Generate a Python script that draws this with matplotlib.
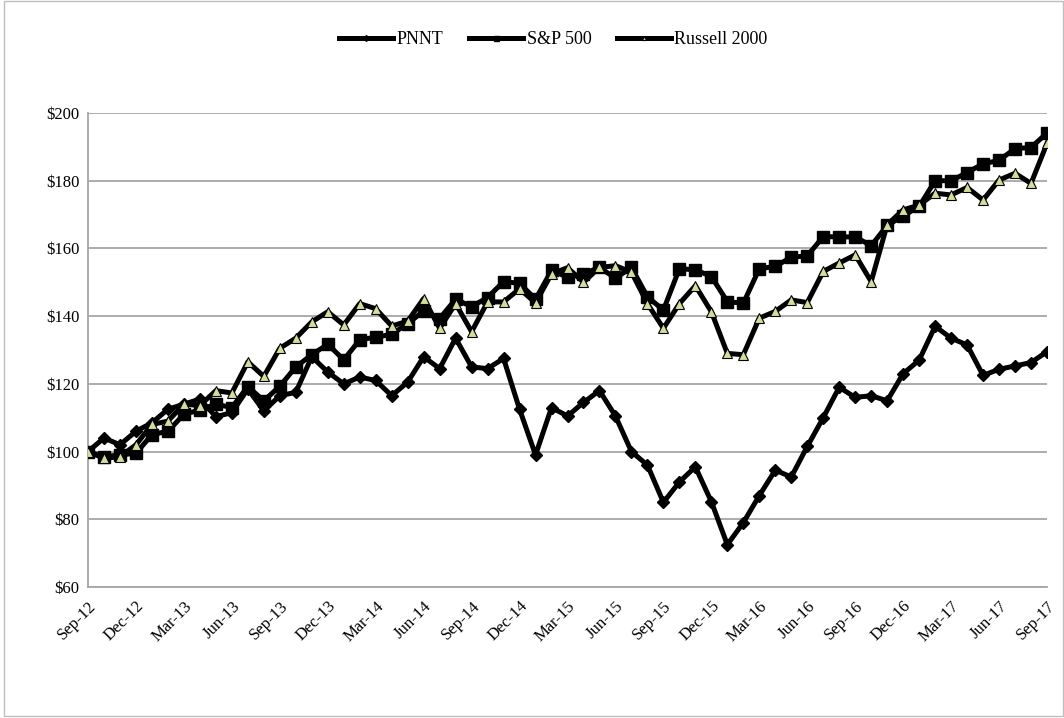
import matplotlib
matplotlib.use("Agg")
import matplotlib.pyplot as plt
from matplotlib.patches import Rectangle

# Monthly values, Sep-12 .. Sep-17 (61 months)
pnnt = [100, 104, 102, 106, 108.5, 112.5, 114, 115.5, 110.3, 111.5,
        118.5, 112, 116.5, 117.5, 128, 123.5, 120, 122, 121, 116.5,
        120.5, 128, 124.5, 133.5, 125, 124.5, 127.5, 112.5, 99, 113,
        110.5, 114.5, 118, 110.5, 100, 96, 85, 91, 95.5, 85.2,
        72.5, 79, 87, 94.5, 92.5, 101.5, 110, 119, 116, 116.5,
        115, 123, 127, 137, 133.5, 131.5, 122.5, 124.3, 125.3, 126.3,
        129.5]
sp500 = [100, 98.5, 99, 99.5, 105, 106, 111, 112.3, 114, 113,
         119.2, 115, 119.3, 125, 128.6, 131.7, 127.1, 133, 133.8, 134.6,
         137.8, 141.5, 139.3, 145, 142.8, 145.5, 150.2, 149.7, 145, 153.5,
         151.5, 152.5, 154.4, 151.2, 154.4, 145.7, 141.8, 154, 153.7, 151.7,
         144.3, 143.8, 154, 154.7, 157.4, 157.8, 163.5, 163.4, 163.4, 160.8,
         166.8, 169.6, 172.4, 180, 180, 182.4, 185, 186, 189.5, 189.8,
         194.1]
russell = [100, 98, 98.5, 102, 108, 109, 114, 113.6, 118, 117.3,
           126.5, 122.2, 130.5, 133.5, 138.3, 141.3, 137.4, 143.7, 142.2, 137.1,
           138.5, 145.2, 136.4, 143.7, 135.4, 144.2, 144.2, 148.1, 143.9, 152.5,
           154.3, 150, 154.4, 154.9, 153, 143.7, 136.4, 143.7, 149, 141.3,
           129, 128.6, 139.4, 141.4, 144.8, 144, 153.2, 155.7, 158.1, 150.2,
           167, 171.4, 172.8, 176.3, 175.8, 178, 174.3, 180.2, 182.2, 179.2,
           191]

xtick_labels = ["Sep-12", "Dec-12", "Mar-13", "Jun-13", "Sep-13", "Dec-13", "Mar-14",
                "Jun-14", "Sep-14", "Dec-14", "Mar-15", "Jun-15", "Sep-15", "Dec-15",
                "Mar-16", "Jun-16", "Sep-16", "Dec-16", "Mar-17", "Jun-17", "Sep-17"]
ytick_values = [60, 80, 100, 120, 140, 160, 180, 200]
ytick_labels = ["$60", "$80", "$100", "$120", "$140", "$160", "$180", "$200"]

plt.rcParams["font.family"] = ["Liberation Serif", "DejaVu Serif"]

fig = plt.figure(figsize=(10.64, 7.18), dpi=100)
ax = fig.add_axes([88 / 1064, 1 - 587 / 718, (1047 - 88) / 1064, (587 - 113) / 718])

months = list(range(len(pnnt)))
ax.plot(months, pnnt, color="black", lw=3.6, marker="D", ms=6.5,
        mfc="black", mec="black", label="PNNT", zorder=3)
ax.plot(months, sp500, color="black", lw=3.6, marker="s", ms=8,
        mfc="black", mec="black", label="S&P 500", zorder=4)
ax.plot(months, russell, color="black", lw=3.6, marker="^", ms=6.5,
        mfc="#d4dc98", mec="black", mew=0.8, label="Russell 2000", zorder=5)

ax.set_xlim(0, 60)
ax.set_ylim(60, 200)
ax.set_xticks(range(0, 61, 3))
ax.set_xticklabels(xtick_labels, rotation=45, ha="right", rotation_mode="anchor",
                   fontsize=12)
ax.set_yticks(ytick_values)
ax.set_yticklabels(ytick_labels, fontsize=12)
ax.tick_params(axis="both", length=0, pad=6)
ax.tick_params(axis="x", pad=8)

ax.grid(True, axis="y", color="#a6a6a6", lw=1.3)
ax.set_axisbelow(True)
for side in ["top", "right"]:
    ax.spines[side].set_visible(False)
ax.spines["left"].set_color("#a6a6a6")
ax.spines["bottom"].set_color("#a6a6a6")
ax.spines["left"].set_linewidth(1.3)
ax.spines["bottom"].set_linewidth(1.3)

leg = fig.legend(loc="center", bbox_to_anchor=(0.52, 1 - 40 / 718), ncol=3,
                 frameon=False, fontsize=13, markerscale=0.45,
                 handlelength=3.0, columnspacing=1.4, handletextpad=0.2)

# light frame around the whole picture
fig.patches.append(Rectangle((0.004, 0.003), 0.995, 0.996, transform=fig.transFigure,
                             fill=False, edgecolor="#bfbfbf", lw=1.0))

fig.savefig("out.png", dpi=100)
